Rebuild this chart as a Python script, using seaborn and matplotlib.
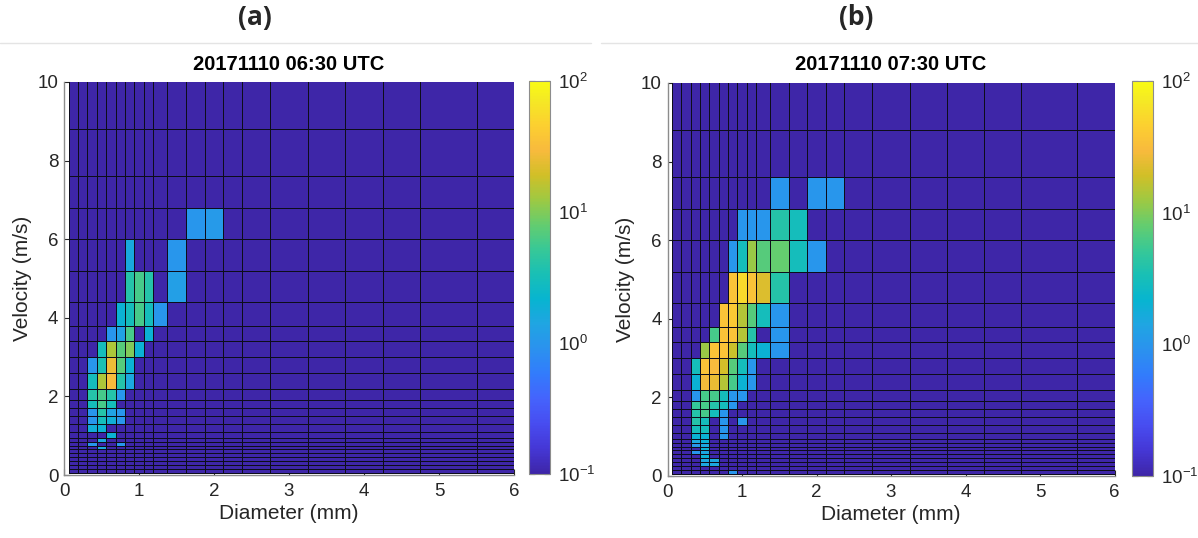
import numpy as np
import matplotlib
matplotlib.use("Agg")
import matplotlib.pyplot as plt
import seaborn as sns
from matplotlib.colors import LinearSegmentedColormap, LogNorm
from matplotlib.lines import Line2D

# Parsivel class centres, used as the vertices of the mesh (MATLAB pcolor style)
diameter_classes = [0.062, 0.187, 0.312, 0.437, 0.562, 0.687, 0.812, 0.937, 1.062,
                    1.187, 1.375, 1.625, 1.875, 2.125, 2.375, 2.75, 3.25, 3.75,
                    4.25, 4.75, 5.5, 6.5]
velocity_classes = [0.05, 0.15, 0.25, 0.35, 0.45, 0.55, 0.65, 0.75, 0.85, 0.95,
                    1.1, 1.3, 1.5, 1.7, 1.9, 2.2, 2.6, 3.0, 3.4, 3.8, 4.4, 5.2,
                    6.0, 6.8, 7.6, 8.8, 10.4]

# 20171110 06:30 UTC : non-empty cells (velocity bin, diameter bin, count)
a_vel = [22, 22,
         21, 21,
         20, 20, 20, 20,
         19, 19, 19, 19, 19,
         18, 18, 18, 18,
         17, 17, 17, 17, 17,
         16, 16, 16, 16, 16,
         15, 15, 15, 15, 15,
         14, 14, 14, 14,
         13, 13, 13,
         12, 12, 12, 12,
         11, 11, 11, 11,
         10, 10,
         9, 8, 7, 7, 6]
a_dia = [11, 12,
         6, 10,
         6, 7, 8, 10,
         5, 6, 7, 8, 9,
         4, 5, 6, 8,
         3, 4, 5, 6, 7,
         2, 3, 4, 5, 6,
         2, 3, 4, 5, 6,
         2, 3, 4, 5,
         2, 3, 4,
         2, 3, 4, 5,
         2, 3, 4, 5,
         2, 3,
         4, 3, 2, 5, 3]
a_cnt = [1.0, 1.1,
         1.6, 1.0,
         4, 6, 4, 1.2,
         2, 3, 6, 3, 1.0,
         1.0, 1.3, 6, 2,
         3, 14, 7, 10, 2,
         1.0, 3.5, 26, 7, 2,
         3, 14, 30, 4, 1.5,
         4, 6, 4, 1.0,
         3, 6, 3,
         1.0, 4, 1.3, 1.0,
         1.0, 3, 1.8, 1.0,
         1.8, 2,
         2, 1.5, 1.0, 1.0, 1.5]

# 20171110 07:30 UTC
b_vel = [23, 23, 23,
         22, 22, 22, 22, 22,
         21, 21, 21, 21, 21, 21, 21,
         20, 20, 20, 20, 20,
         19, 19, 19, 19, 19, 19,
         18, 18, 18, 18, 18, 18,
         17, 17, 17, 17, 17, 17, 17, 17,
         16, 16, 16, 16, 16, 16, 16,
         15, 15, 15, 15, 15, 15, 15,
         14, 14, 14, 14, 14, 14,
         13, 13, 13, 13, 13,
         12, 12, 12, 12,
         11, 11, 11, 11,
         10, 10, 10,
         9, 9, 9,
         8, 8,
         7, 7,
         6,
         5, 5,
         4,
         3, 3,
         2, 2,
         0]
b_dia = [10, 12, 13,
         7, 8, 9, 10, 11,
         6, 7, 8, 9, 10, 11, 12,
         6, 7, 8, 9, 10,
         5, 6, 7, 8, 9, 10,
         4, 5, 6, 7, 8, 10,
         3, 4, 5, 6, 7, 8, 9, 10,
         2, 3, 4, 5, 6, 7, 8,
         2, 3, 4, 5, 6, 7, 8,
         2, 3, 4, 5, 6, 7,
         2, 3, 4, 5, 6,
         2, 3, 4, 5,
         2, 3, 5, 7,
         2, 3, 5,
         2, 3, 5,
         2, 3,
         2, 3,
         3,
         2, 3,
         3,
         3, 4,
         3, 4,
         6]
b_cnt = [1.0, 1.0, 1.0,
         1.0, 1.0, 1.0, 4, 3,
         1.0, 3, 12, 7, 8, 3, 1.0,
         35, 55, 35, 22, 4,
         35, 40, 15, 7, 3, 1.0,
         6, 35, 35, 15, 4, 1.0,
         12, 35, 35, 18, 7, 3, 2, 1.0,
         3, 35, 30, 20, 7, 3, 1.0,
         2, 28, 25, 15, 6, 2, 1.0,
         1.0, 6, 6, 3, 1.0, 1.0,
         5, 6, 4, 3, 1.0,
         4, 6, 3, 1.0,
         4, 3, 1.0, 1.0,
         3, 3, 1.0,
         2, 2, 1.0,
         1.5, 2,
         1.0, 1.5,
         2,
         1.0, 1.5,
         2,
         1.5, 1.5,
         1.5, 1.5,
         1.0]

titles = ["20171110 06:30 UTC", "20171110 07:30 UTC"]
panel_tags = ["(a)", "(b)"]
cbar_ticks = [0.1, 1, 10, 100]
cbar_labels = ["$10^{-1}$", "$10^{0}$", "$10^{1}$", "$10^{2}$"]

# parula colour map
parula_anchors = [
    (0.2422, 0.1504, 0.6603), (0.2706, 0.2147, 0.8364), (0.2813, 0.3006, 0.9414),
    (0.2699, 0.3892, 0.9906), (0.1963, 0.4847, 0.9892), (0.1687, 0.5703, 0.9359),
    (0.1248, 0.6459, 0.8883), (0.0297, 0.7082, 0.8163), (0.0964, 0.7500, 0.7120),
    (0.2161, 0.7843, 0.5923), (0.3909, 0.8029, 0.4354), (0.6174, 0.7876, 0.2612),
    (0.8203, 0.7498, 0.1535), (0.9728, 0.7298, 0.2394), (0.9892, 0.8136, 0.1885),
    (0.9597, 0.9135, 0.1423), (0.9769, 0.9839, 0.0805)]
anchor_pos = [i * 4 / 63 for i in range(16)] + [1.0]
parula = LinearSegmentedColormap.from_list("parula", list(zip(anchor_pos, parula_anchors)), N=256)
parula.set_bad(parula_anchors[0])
parula.set_under(parula_anchors[0])

sns.set_theme(style="white")
plt.rcParams["font.family"] = ["Liberation Sans", "DejaVu Sans"]
plt.rcParams["mathtext.fontset"] = "custom"
plt.rcParams["mathtext.rm"] = "Liberation Sans"
plt.rcParams["mathtext.it"] = "Liberation Sans:italic"

W, H = 1198, 538
fig = plt.figure(figsize=(W / 100, H / 100), dpi=100)
fig.patch.set_facecolor("white")


def box(x0, y0, x1, y1):
    return [x0 / W, 1 - y1 / H, (x1 - x0) / W, (y1 - y0) / H]


layouts = [
    dict(ax=box(64, 82, 514, 475), cax=box(529, 81, 550, 474), tag_x=255),
    dict(ax=box(667.5, 83, 1114.5, 476), cax=box(1132, 81, 1153, 476), tag_x=856),
]
panels = [(a_vel, a_dia, a_cnt), (b_vel, b_dia, b_cnt)]
text_col = "#262626"
norm = LogNorm(vmin=0.1, vmax=100)

for k, ((vb, db, cnt), lay) in enumerate(zip(panels, layouts)):
    grid = np.full((len(velocity_classes) - 1, len(diameter_classes) - 1), np.nan)
    for r, c, v in zip(vb, db, cnt):
        grid[r, c] = v

    ax = fig.add_axes(lay["ax"])
    mesh = ax.pcolormesh(diameter_classes, velocity_classes, np.ma.masked_invalid(grid),
                         cmap=parula, norm=norm, edgecolors="#0d0d1a", linewidth=0.7)
    ax.set_xlim(0, 6)
    ax.set_ylim(0, 10)
    ax.set_xticks(range(0, 7))
    ax.set_yticks(range(0, 11, 2))
    ax.set_axisbelow(True)
    ax.tick_params(direction="in", length=4, width=0.8, colors=text_col,
                   labelsize=13.5, bottom=True, left=True)
    ax.tick_params(axis="x", pad=6)
    ax.tick_params(axis="y", pad=4)
    sns.despine(ax=ax, top=True, right=True)
    for side in ("left", "bottom"):
        ax.spines[side].set_color("#8c8c8c")
        ax.spines[side].set_linewidth(1.0)
    ax.set_xlabel("Diameter (mm)", fontsize=15, color=text_col)
    ax.set_ylabel("Velocity (m/s)", fontsize=15, color=text_col)
    ax.xaxis.set_label_coords(0.5, -0.075)
    ax.yaxis.set_label_coords(-0.072, 0.5)
    ax.set_title(titles[k], fontsize=14.5, fontweight="bold", color="black", pad=9)

    cax = fig.add_axes(lay["cax"])
    cb = fig.colorbar(mesh, cax=cax, ticks=cbar_ticks)
    cb.ax.minorticks_off()
    cb.ax.set_yticklabels(cbar_labels)
    cb.ax.tick_params(direction="in", length=4, width=0.8, colors=text_col,
                      labelsize=13.5, left=True, right=True, pad=6)
    cb.outline.set_edgecolor("#8c8c8c")
    cb.outline.set_linewidth(0.8)

    fig.text(lay["tag_x"] / W, 1 - 18 / H, panel_tags[k], ha="center", va="center",
             fontsize=19, fontweight="bold", family=["Open Sans", "DejaVu Sans"])

# thin separator rules under the panel tags
fig.add_artist(Line2D([0, 0.493], [1 - 43 / H] * 2, color="#e4e4e4", lw=1))
fig.add_artist(Line2D([0.502, 1], [1 - 43 / H] * 2, color="#e4e4e4", lw=1))

fig.savefig("out.png", dpi=100)
